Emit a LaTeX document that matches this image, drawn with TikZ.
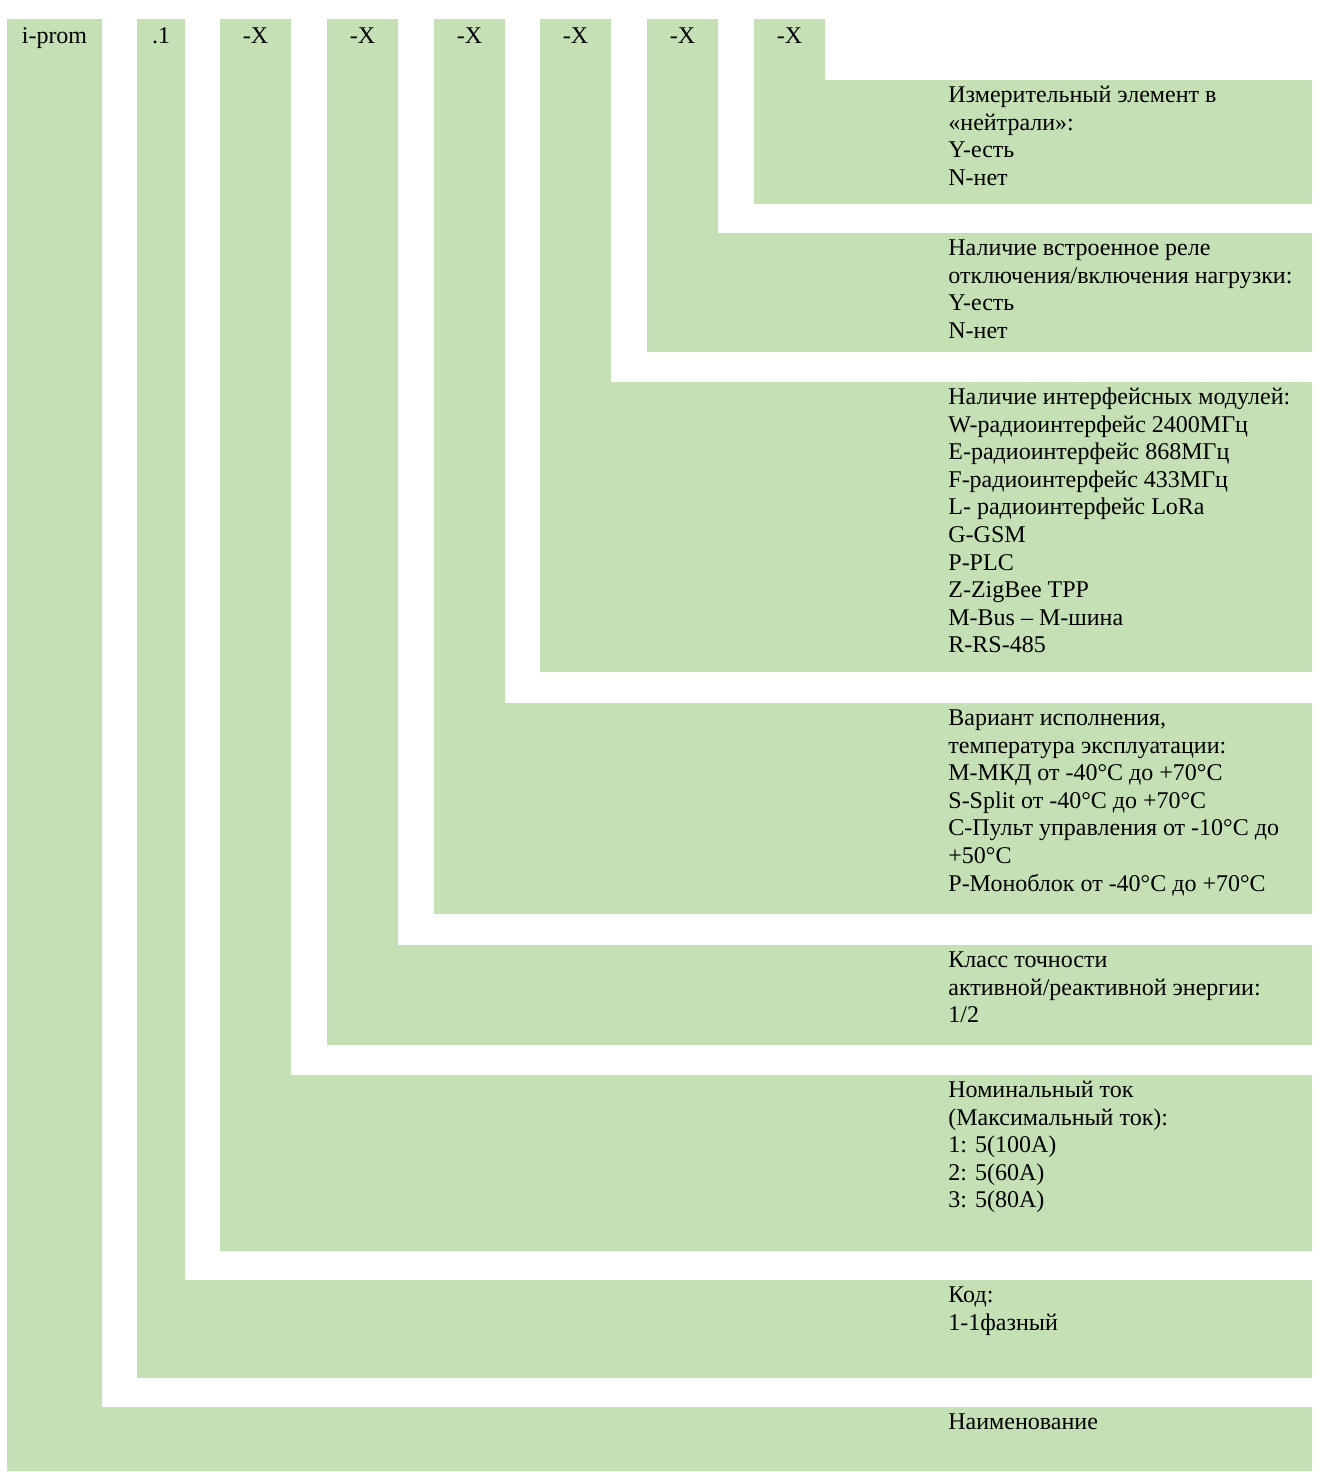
\documentclass[tikz,border=0pt]{standalone}
\usepackage{fontspec}
\setmainfont{Liberation Serif}
\definecolor{leaf}{HTML}{C5E0B4}
\newcommand{\firstln}{\rule{0pt}{11pt}}

\begin{document}
\begin{tikzpicture}[x=0.5pt, y=-0.5pt,
  band/.style={fill=leaf, draw=none},
  head/.style={anchor=base, inner sep=0pt, font=\fontsize{12}{13.8}\selectfont},
  descr/.style={anchor=north west, inner sep=0pt, align=left, font=\fontsize{12}{13.8}\selectfont},
]
\useasboundingbox (0,0) rectangle (1319,1472);

% L-shaped bands, outermost first
\fill[band] (7,19) -- (102,19) -- (102,1407) -- (1312,1407) -- (1312,1471) -- (7,1471) -- cycle;
\fill[band] (137,19) -- (185,19) -- (185,1280) -- (1312,1280) -- (1312,1378) -- (137,1378) -- cycle;
\fill[band] (220,19) -- (291,19) -- (291,1075) -- (1312,1075) -- (1312,1251) -- (220,1251) -- cycle;
\fill[band] (327,19) -- (398,19) -- (398,945) -- (1312,945) -- (1312,1045) -- (327,1045) -- cycle;
\fill[band] (434,19) -- (505,19) -- (505,703) -- (1312,703) -- (1312,914) -- (434,914) -- cycle;
\fill[band] (540,19) -- (611,19) -- (611,382) -- (1312,382) -- (1312,672) -- (540,672) -- cycle;
\fill[band] (647,19) -- (718,19) -- (718,233) -- (1312,233) -- (1312,352) -- (647,352) -- cycle;
\fill[band] (754,19) -- (825,19) -- (825,80) -- (1312,80) -- (1312,204) -- (754,204) -- cycle;

% Header row
\node[head] (hName) at (54.5,43.5) {i-prom};
\node[head] (hCode) at (161,43.5) {.1};
\node[head] (hCur) at (255.5,43.5) {-X};
\node[head] (hCls) at (362.5,43.5) {-X};
\node[head] (hVar) at (469.5,43.5) {-X};
\node[head] (hIfc) at (575.5,43.5) {-X};
\node[head] (hRel) at (682.5,43.5) {-X};
\node[head] (hNeu) at (789.5,43.5) {-X};

% Descriptions on the right
\node[descr] (dNeu) at (948,80) {\firstln Измерительный элемент в\\«нейтрали»:\\Y-есть\\N-нет};
\node[descr] (dRel) at (948,233) {\firstln Наличие встроенное реле\\отключения/включения нагрузки:\\Y-есть\\N-нет};
\node[descr] (dIfc) at (948,382) {\firstln Наличие интерфейсных модулей:\\W-радиоинтерфейс 2400МГц\\E-радиоинтерфейс 868МГц\\F-радиоинтерфейс 433МГц\\L- радиоинтерфейс LoRa\\G-GSM\\P-PLC\\Z-ZigBee TPP\\M-Bus – M-шина\\R-RS-485};
\node[descr] (dVar) at (948,703) {\firstln Вариант исполнения,\\температура эксплуатации:\\M-МКД от -40°С до +70°С\\S-Split от -40°С до +70°С\\С-Пульт управления от -10°С до\\+50°С\\P-Моноблок от -40°С до +70°С};
\node[descr] (dCls) at (948,945) {\firstln Класс точности\\активной/реактивной энергии:\\1/2};
\node[descr] (dCur) at (948,1075) {\firstln Номинальный ток\\(Максимальный ток):\\1: 5(100А)\\2: 5(60А)\\3: 5(80А)};
\node[descr] (dCode) at (948,1280) {\firstln Код:\\1-1фазный};
\node[descr] (dName) at (948,1407) {\firstln Наименование};

\end{tikzpicture}
\end{document}
